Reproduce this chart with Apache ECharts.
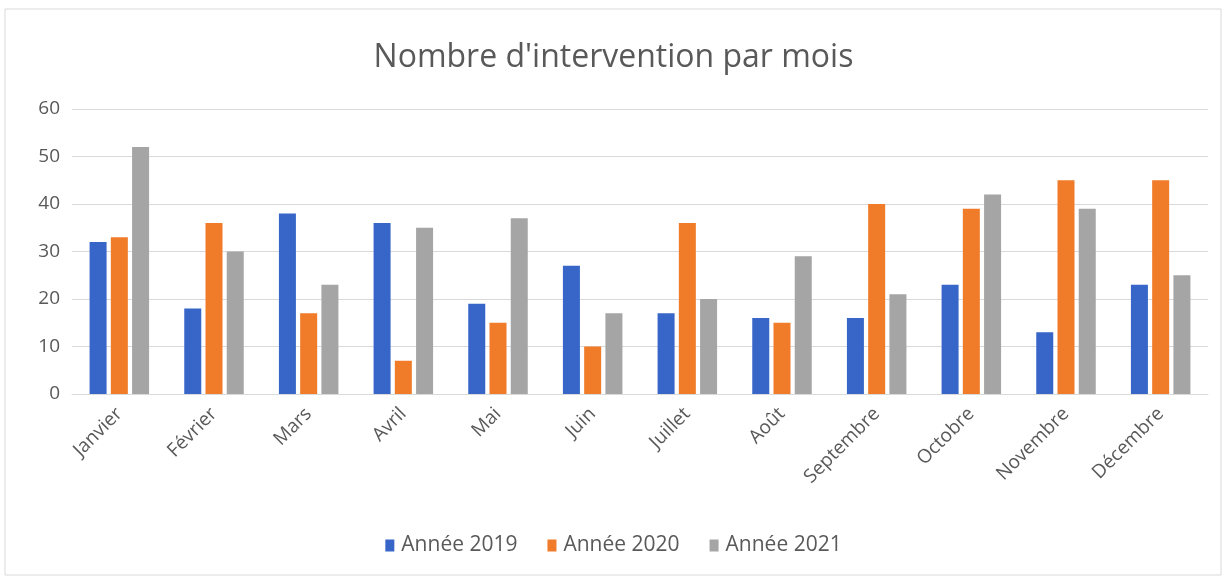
<!DOCTYPE html>
<html>
<head>
<meta charset="utf-8">
<script src="https://cdn.jsdelivr.net/npm/echarts@6/dist/echarts.min.js"></script>
<style>
  html, body { margin: 0; padding: 0; background: #fff; }
  #chart { width: 1227px; height: 580px; }
</style>
</head>
<body>
<div id="chart"></div>
<script>
// mois
var mois = ['Janvier', 'Février', 'Mars', 'Avril', 'Mai', 'Juin', 'Juillet', 'Août', 'Septembre', 'Octobre', 'Novembre', 'Décembre'];
// nombre d'interventions par année
var annee2019 = [32, 18, 38, 36, 19, 27, 17, 16, 16, 23, 13, 23];
var annee2020 = [33, 36, 17, 7, 15, 10, 36, 15, 40, 39, 45, 45];
var annee2021 = [52, 30, 23, 35, 37, 17, 20, 29, 21, 42, 39, 25];
var yTicks = [0, 10, 20, 30, 40, 50, 60];

var chart = echarts.init(document.getElementById('chart'));
var font = 'Open Sans';
var option = {
    animation: false,
    color: ['#3766C8', '#F07B28', '#A5A5A5'],
    textStyle: { fontFamily: font },
    graphic: [{
        type: 'rect',
        shape: { x: 5, y: 9, width: 1216, height: 566 },
        style: { fill: 'none', stroke: '#d9d9d9', lineWidth: 1 }
    }],
    title: {
        text: "Nombre d'intervention par mois",
        left: 'center',
        top: 37,
        textStyle: { fontSize: 32, fontWeight: 'normal', color: '#595959', fontFamily: font }
    },
    legend: {
        bottom: 19,
        left: 'center',
        itemWidth: 9,
        itemHeight: 12,
        itemGap: 30,
        icon: 'rect',
        textStyle: { fontSize: 21, color: '#595959', fontFamily: font, padding: [0, 0, 0, 2] },
        data: ['Année 2019', 'Année 2020', 'Année 2021']
    },
    grid: { left: 72, right: 19, top: 109, bottom: 186, containLabel: false },
    xAxis: {
        type: 'category',
        data: mois,
        axisTick: { show: false },
        axisLine: { lineStyle: { color: '#d9d9d9' } },
        axisLabel: { rotate: 45, fontSize: 19, color: '#595959', margin: 17 }
    },
    yAxis: {
        type: 'value',
        min: yTicks[0],
        max: yTicks[yTicks.length - 1],
        interval: 10,
        axisLine: { show: false },
        axisTick: { show: false },
        splitLine: { lineStyle: { color: '#d9d9d9' } },
        axisLabel: { fontSize: 19, color: '#595959', margin: 12 }
    },
    series: [
        { name: 'Année 2019', type: 'bar', data: annee2019, barWidth: 17, barGap: '25%' },
        { name: 'Année 2020', type: 'bar', data: annee2020, barWidth: 17, barGap: '25%' },
        { name: 'Année 2021', type: 'bar', data: annee2021, barWidth: 17, barGap: '25%' }
    ]
};
chart.setOption(option);
window.addEventListener('resize', chart.resize);
</script>
</body>
</html>
